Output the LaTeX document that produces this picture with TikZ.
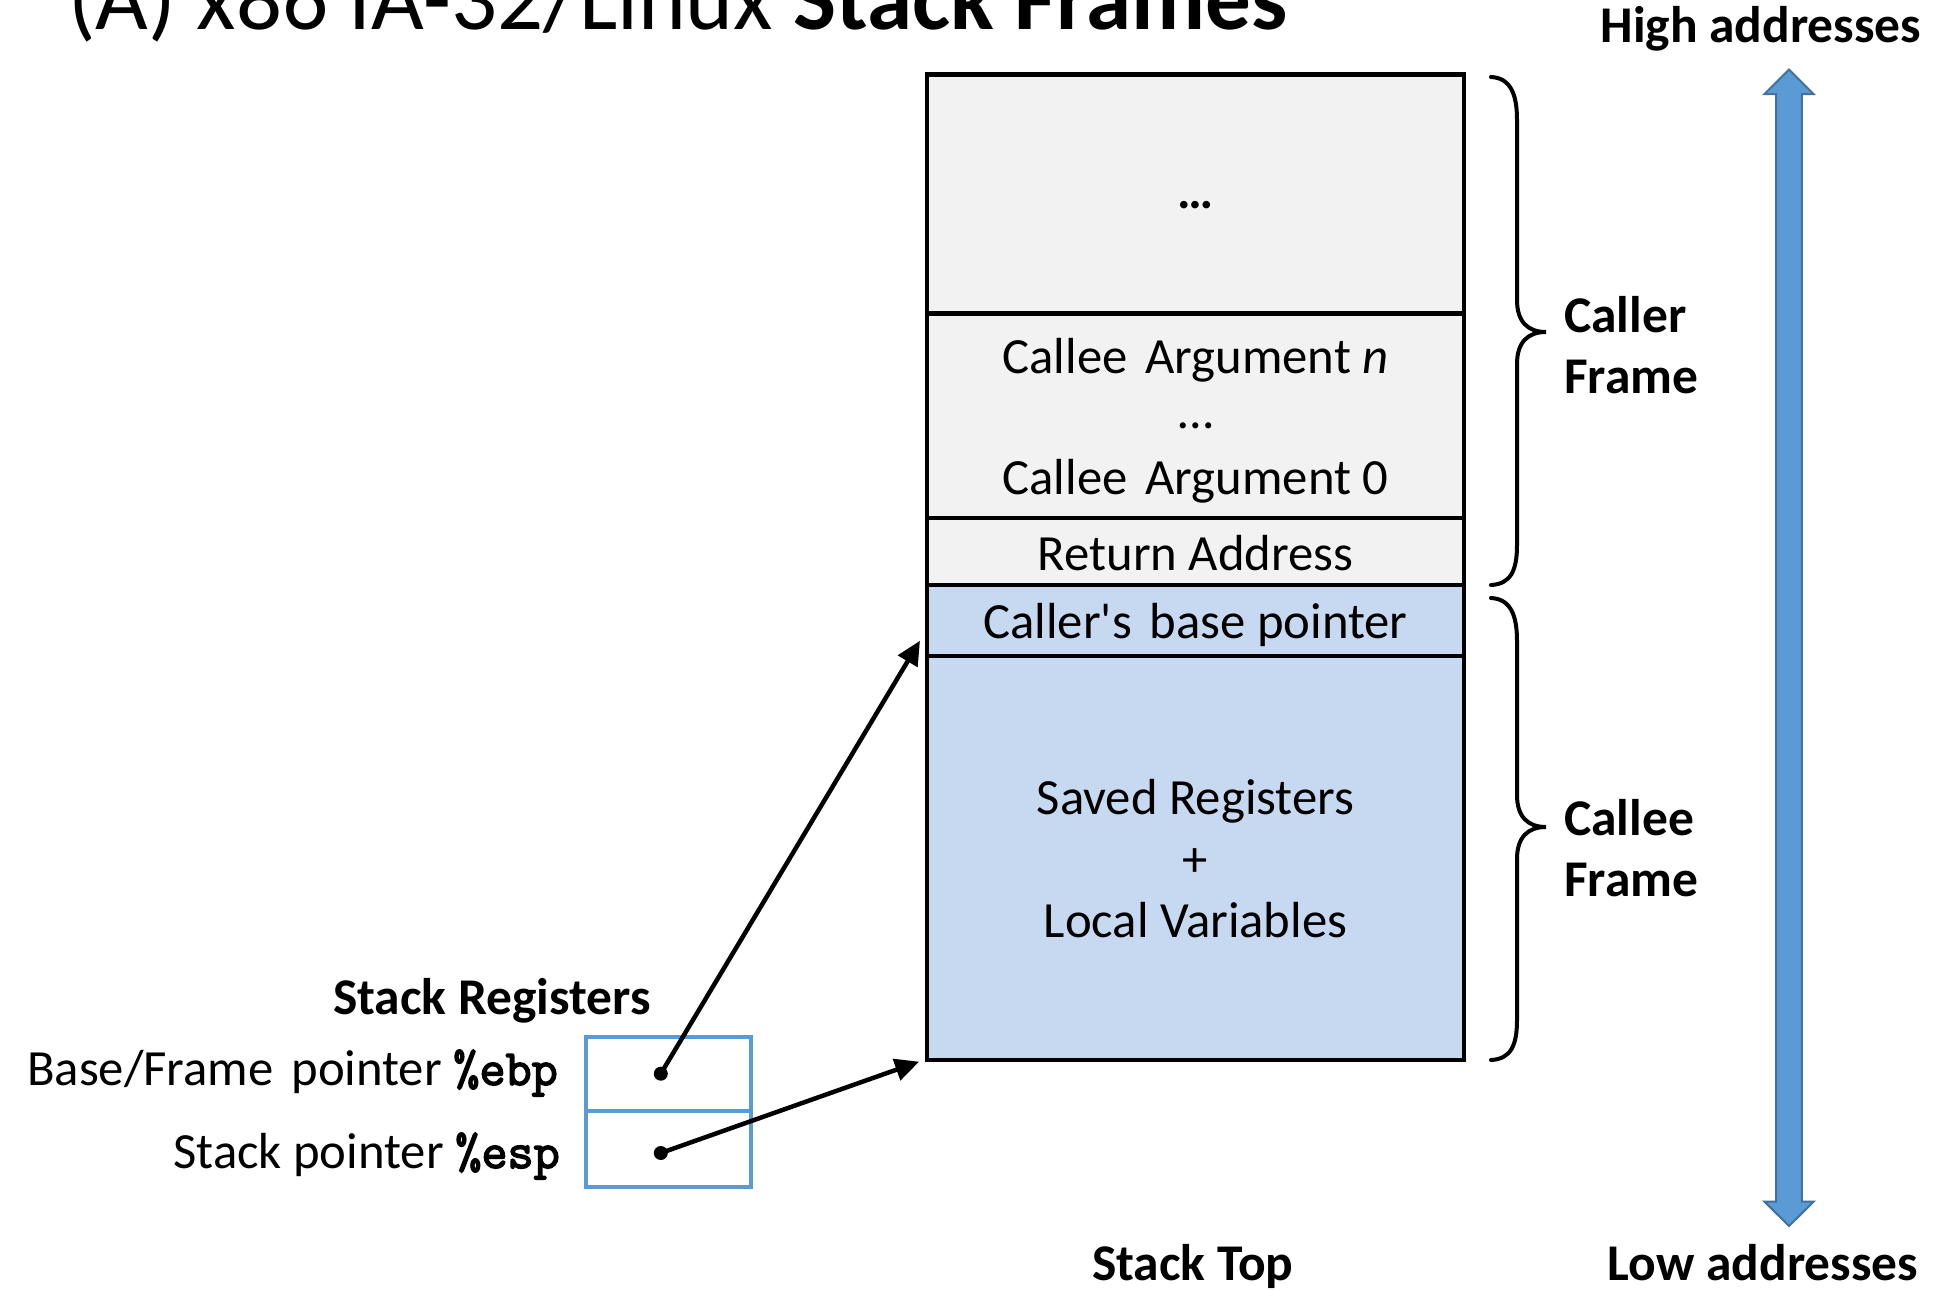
\documentclass[tikz,border=0pt]{standalone}
\usepackage{fontspec}
\setmainfont{Carlito}
\newfontfamily\regmono[FakeBold=3]{Latin Modern Mono}
\usetikzlibrary{arrows.meta}
\definecolor{cellgray}{HTML}{F2F2F2}
\definecolor{cellblue}{HTML}{C6D9F0}
\definecolor{accblue}{HTML}{5B9BD5}
\definecolor{accdark}{HTML}{41719C}
\newcommand{\regcode}[1]{{\regmono #1}}
\tikzset{
  cell/.style={draw=black, line width=4.5pt, minimum width=537pt, inner sep=0pt},
  txt/.style={font=\fontsize{50.7}{60}\selectfont, anchor=base, inner sep=0pt},
  lbl/.style={font=\fontsize{51.5}{62}\selectfont\bfseries, anchor=base, inner sep=0pt},
  regbox/.style={draw=accblue, line width=4pt, minimum width=165pt, inner sep=0pt},
  ptr/.style={-{Triangle[length=24pt,width=22pt]}, line width=4.5pt, shorten >=2pt},
  bracepath/.style={line width=4pt, line cap=round},
  dotn/.style={circle, fill=black, minimum size=14pt, inner sep=0pt},
}
\begin{document}
\begin{tikzpicture}[x=1pt,y=-1pt]
\path[use as bounding box] (0,0) rectangle (1944,1290);
\clip (0,0) rectangle (1944,1290);
\fill[white] (0,0) rectangle (1944,1290);

% title (clipped at the top, as in the reference)
\node[anchor=base west, inner sep=0pt, font=\fontsize{91}{110}\selectfont] (title) at (68,30) {(A) x86 IA-32/Linux \textbf{Stack Frames}};

% stack cells
\node[cell, fill=cellgray, minimum height=239.3pt] (c1) at (1195.5,194.05) {};
\node[cell, fill=cellgray, minimum height=204.5pt] (c2) at (1195.5,415.95) {};
\node[cell, fill=cellgray, minimum height=67pt] (c3) at (1195.5,551.7) {};
\node[cell, fill=cellblue, minimum height=70.8pt] (c4) at (1195.5,620.6) {};
\node[cell, fill=cellblue, minimum height=404pt] (c5) at (1195.5,858) {};

\node[txt, font=\fontsize{50.7}{60}\selectfont\bfseries] (t1) at (1195.5,208) {…};
\node[txt] (t2a) at (1195.5,373) {Callee\hspace{0.35em}Argument \textit{n}};
\node[txt] (t2b) at (1195.5,428) {…};
\node[txt] (t2c) at (1195.5,494) {Callee\hspace{0.35em}Argument 0};
\node[txt] (t3) at (1195.5,570) {Return Address};
\node[txt] (t4) at (1195.5,638) {Caller\textquotesingle s\hspace{0.35em}base pointer};
\node[txt] (t5a) at (1195.5,814) {Saved Registers};
\node[txt] (t5b) at (1195.5,876) {+};
\node[txt] (t5c) at (1195.5,937) {Local Variables};

% braces
\draw[bracepath] (1491,77) .. controls (1511,78) and (1517,95) .. (1517,120)
  -- (1517,300) .. controls (1517,322) and (1528,332) .. (1546,332)
  .. controls (1528,332) and (1517,342) .. (1517,364)
  -- (1517,545) .. controls (1517,570) and (1511,584) .. (1491,585);
\draw[bracepath] (1491,598) .. controls (1511,599) and (1517,616) .. (1517,641)
  -- (1517,795) .. controls (1517,817) and (1528,827) .. (1546,827)
  .. controls (1528,827) and (1517,837) .. (1517,859)
  -- (1517,1020) .. controls (1517,1045) and (1511,1059) .. (1491,1060);

\node[lbl, anchor=base west] (callerA) at (1564,332) {Caller};
\node[lbl, anchor=base west] (callerB) at (1564,393) {Frame};
\node[lbl, anchor=base west] (calleeA) at (1564,835.5) {Callee};
\node[lbl, anchor=base west] (calleeB) at (1564,896) {Frame};

% address direction arrow
\filldraw[fill=accblue, draw=accdark, line width=2pt, line join=miter]
  (1789,69.5) -- (1813.5,94) -- (1801.8,94) -- (1801.8,1201.7) -- (1813.5,1201.7)
  -- (1789,1226) -- (1764.5,1201.7) -- (1776.2,1201.7) -- (1776.2,94) -- (1764.5,94) -- cycle;
\node[lbl] (high) at (1761,43) {High addresses};
\node[lbl] (low) at (1763,1280.6) {Low addresses};
\node[lbl] (top) at (1192.7,1280.6) {Stack Top};

% stack registers
\node[lbl] (sregs) at (492,1014) {Stack Registers};
\node[regbox, minimum height=74.4pt] (ebpbox) at (668.9,1073.7) {};
\node[regbox, minimum height=75.6pt] (espbox) at (668.9,1148.7) {};
\node[txt, anchor=base east] (ebplbl) at (558,1085) {Base/Frame\hspace{0.35em}pointer \regcode{\%ebp}};
\node[txt, anchor=base east] (esplbl) at (560,1168) {Stack pointer \regcode{\%esp}};
\node[dotn] (ebpdot) at (660.8,1073.7) {};
\node[dotn] (espdot) at (660.8,1153) {};
\coordinate (ebptip) at (921,639);
\coordinate (esptip) at (921,1061);
\draw[ptr] (ebpdot.center) -- (ebptip);
\draw[ptr] (espdot.center) -- (esptip);
\end{tikzpicture}
\end{document}
